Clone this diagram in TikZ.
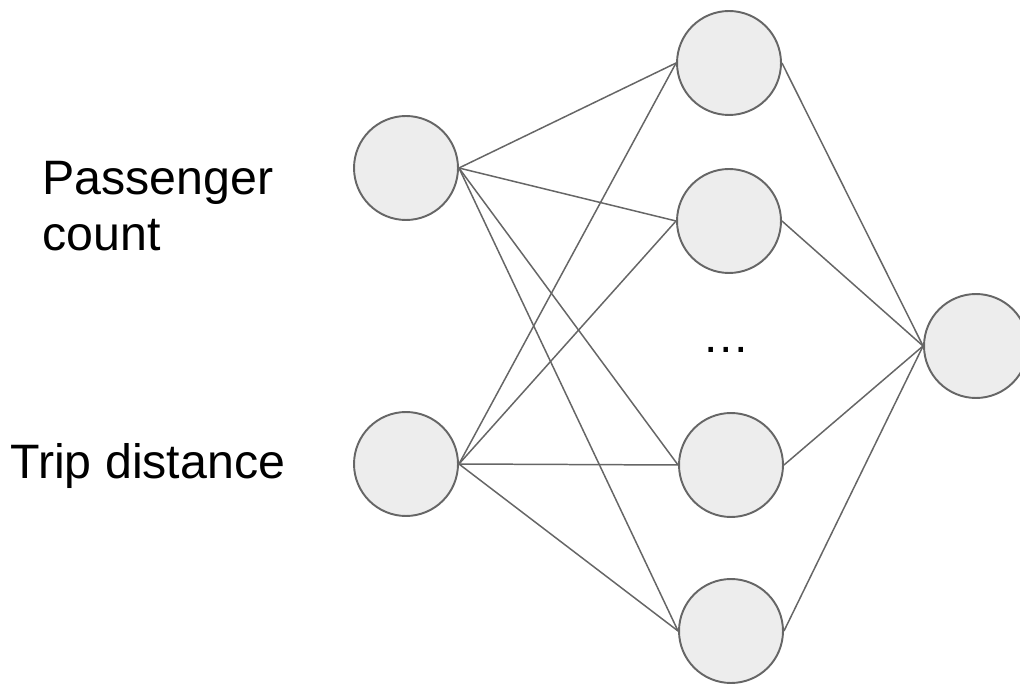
\documentclass[tikz,border=0pt]{standalone}
\usepackage{fontspec}
\setmainfont{Liberation Sans}
\usepackage{tikz}
\usetikzlibrary{positioning}

\begin{document}
\begin{tikzpicture}[
        x=0.02cm, y=-0.02cm,
        neuron/.style={circle, draw=black!60, line width=1.1pt, fill=black!7, minimum size=2.08cm, inner sep=0pt},
        weight/.style={draw=black!60, line width=0.85pt},
        feature/.style={font=\fontsize{27.5}{32.4}\selectfont, align=left, anchor=base west, inner sep=0pt},
    ]
        \useasboundingbox (0,0) rectangle (1020,685);

        % input layer
        \node[neuron] (in1) at (406,168) {};
        \node[neuron] (in2) at (406,464) {};
        \node[feature] (passenger) at (42,251) {Passenger\\count};
        \node[feature] (trip) at (10,478) {Trip distance};

        % hidden layer
        \node[neuron] (hid1) at (729,63) {};
        \node[neuron] (hid2) at (729,221) {};
        \node[neuron] (hid3) at (731,465) {};
        \node[neuron] (hid4) at (731,631) {};
        \node[font=\fontsize{27}{30}\selectfont, anchor=base, inner sep=0pt] (dots) at (726,353) {\dots};

        % output layer
        \begin{scope}
            \clip (0,0) rectangle (1020,685);
            \node[neuron] (out) at (976,346) {};
        \end{scope}

        % weights
        \foreach \i in {1,2}
            \foreach \h in {1,...,4}
                \draw[weight] (in\i.east) -- (hid\h.west);
        \foreach \h in {1,...,4}
            \draw[weight] (hid\h.east) -- (out.west);
\end{tikzpicture}
\end{document}
